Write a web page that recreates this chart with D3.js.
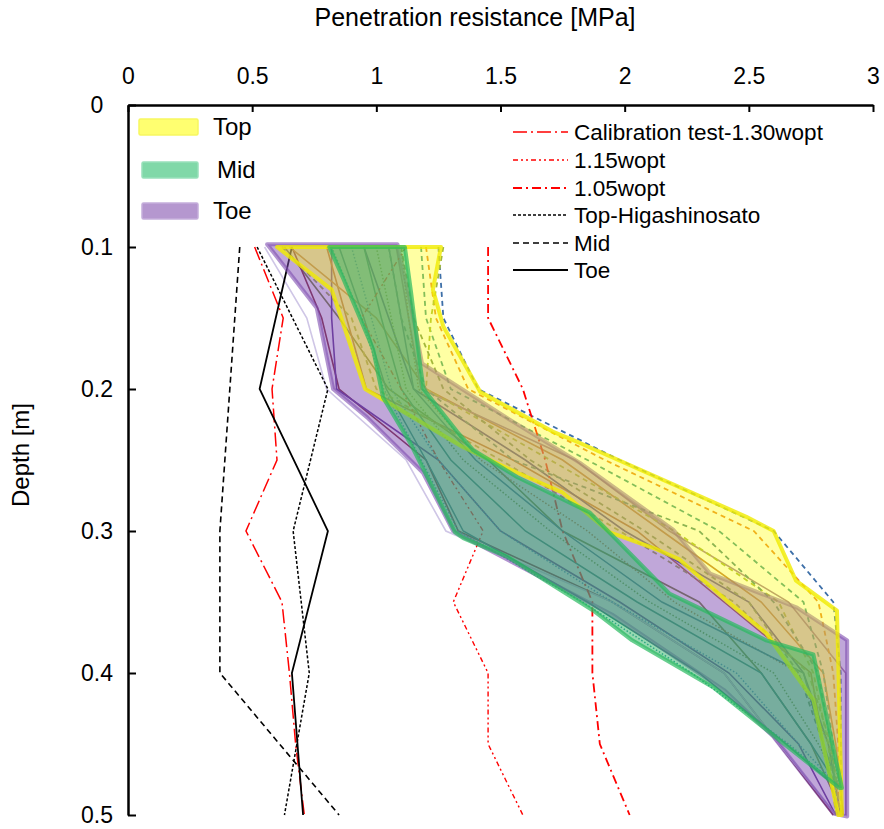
<!DOCTYPE html>
<html>
<head>
<meta charset="utf-8">
<script src="https://cdn.jsdelivr.net/npm/d3@7"></script>
<style>
  html, body { margin: 0; padding: 0; background: #fff; }
  svg { display: block; font-family: "Liberation Sans", Arial, sans-serif; }
</style>
</head>
<body>
<svg id="chart" width="884" height="829"></svg>
<script>
// ---------- data ----------
const xTicks = [0, 0.5, 1, 1.5, 2, 2.5, 3];
const yTicks = [0, 0.1, 0.2, 0.3, 0.4, 0.5];

const depthGrid = [0.1, 0.15, 0.2, 0.25, 0.3, 0.35, 0.4, 0.45, 0.5];
const midGrid   = [0.1, 0.15, 0.2, 0.25, 0.3, 0.35, 0.4, 0.45, 0.48];
const fieldDepths = [0.1, 0.2, 0.3, 0.4, 0.5];

// envelope edges, [depth (m), resistance (MPa)]
const topMinEdge = [[0.1,0.60],[0.13,0.82],[0.2,0.955],[0.241,1.35],[0.259,1.567],[0.273,1.75],[0.301,1.94],[0.313,2.13],[0.32,2.22],[0.349,2.41],[0.372,2.57],[0.419,2.76],[0.5,2.86]];
const topMaxEdge = [[0.1,1.26],[0.13,1.228],[0.156,1.27],[0.202,1.418],[0.23,1.71],[0.238,1.82],[0.29,2.49],[0.30,2.60],[0.335,2.69],[0.356,2.855],[0.5,2.875]];
const midMinEdge = [[0.1,0.81],[0.122,0.866],[0.15,0.934],[0.172,0.987],[0.206,1.027],[0.238,1.136],[0.301,1.317],[0.305,1.35],[0.318,1.526],[0.356,1.873],[0.377,2.03],[0.41,2.356],[0.442,2.585],[0.481,2.865]];
const midMaxEdge = [[0.1,1.115],[0.132,1.14],[0.181,1.175],[0.2,1.19],[0.23,1.325],[0.243,1.39],[0.262,1.567],[0.287,1.86],[0.344,2.18],[0.377,2.57],[0.387,2.76],[0.481,2.875]];
const toeMinEdge = [[0.098,0.56],[0.143,0.76],[0.2,0.826],[0.22,0.963],[0.259,1.188],[0.3,1.309],[0.359,1.95],[0.412,2.40],[0.445,2.60],[0.499,2.84]];
const toeMaxEdge = [[0.098,1.085],[0.137,1.135],[0.182,1.184],[0.223,1.55],[0.252,1.82],[0.299,2.195],[0.33,2.344],[0.354,2.694],[0.377,2.896],[0.501,2.896]];

// individual tests, values on depthGrid / midGrid
const topTests = [
  [1.25, 1.27, 1.41, 1.98, 2.60, 2.84, 2.87, 2.87, 2.87],
  [1.20, 1.24, 1.37, 1.92, 2.52, 2.78, 2.84, 2.86, 2.86],
  [1.18, 1.20, 1.30, 1.85, 2.38, 2.72, 2.80, 2.84, 2.85],
  [1.27, 1.22, 1.20, 1.70, 2.20, 2.62, 2.76, 2.82, 2.85],
  [1.10, 1.15, 1.27, 1.62, 2.08, 2.50, 2.70, 2.80, 2.86],
  [0.62, 0.90, 1.00, 1.50, 1.98, 2.44, 2.74, 2.83, 2.87],
  [1.05, 1.10, 1.20, 1.55, 2.30, 2.60, 2.78, 2.83, 2.86]
];
const topColors = ["#3d6fa8", "#e8862a", "#3f9a8c", "#a4b83c", "#6f8f5f", "#9aa845", "#4c8a80"];

const midTests = [
  [0.85, 0.95, 1.04, 1.20, 1.35, 1.85, 2.30, 2.65, 2.85],
  [0.90, 0.98, 1.06, 1.25, 1.50, 1.95, 2.45, 2.70, 2.86],
  [0.95, 1.02, 1.10, 1.30, 1.60, 2.05, 2.55, 2.75, 2.86],
  [1.00, 1.06, 1.12, 1.35, 1.70, 2.10, 2.60, 2.78, 2.87],
  [1.10, 1.13, 1.17, 1.42, 1.85, 2.20, 2.70, 2.82, 2.87],
  [1.05, 1.10, 1.15, 1.40, 1.75, 2.15, 2.72, 2.80, 2.86],
  [0.82, 0.94, 1.03, 1.18, 1.33, 1.83, 2.27, 2.66, 2.86]
];
const midColors = ["#2e6e7e", "#3f7fbf", "#2a7a70", "#6a8a30", "#c06a30", "#3a6a8a", "#2a9aa0"];
const midDotted = [false, true, false, true, true, false, true];

const toeTests = [
  [0.63, 0.85, 1.05, 1.45, 1.75, 2.30, 2.55, 2.75, 2.88],
  [0.66, 0.78, 0.85, 1.20, 1.33, 1.95, 2.40, 2.62, 2.84],
  [0.82, 0.82, 0.84, 1.25, 1.50, 1.98, 2.42, 2.70, 2.85],
  [0.80, 0.88, 0.96, 1.55, 2.05, 2.40, 2.75, 2.80, 2.86],
  [0.65, 1.00, 1.20, 1.75, 2.15, 2.55, 2.80, 2.85, 2.88],
  [0.95, 1.05, 1.15, 1.60, 2.00, 2.50, 2.72, 2.82, 2.87],
  [0.55, 0.72, 0.80, 1.12, 1.28, 1.95, 2.40, 2.62, 2.85],
  [1.08, 1.13, 1.18, 1.80, 2.18, 2.66, 2.89, 2.89, 2.89]
];
const toeColors = ["#6b7d2e", "#7a2030", "#5a2d8c", "#b0622e", "#c07a3a", "#3a3a8a", "#cfc6e6", "#a07a9a"];

// calibration tests (depthGrid)
const calib130 = [0.51, 0.625, 0.58, 0.60, 0.475, 0.62, 0.65, 0.675, 0.71];
const calib115 = [1.12, 0.94, 1.10, 1.25, 1.43, 1.31, 1.45, 1.45, 1.59];
const calib105 = [1.45, 1.45, 1.59, 1.68, 1.75, 1.87, 1.87, 1.90, 2.02];

// Higashinosato field tests (fieldDepths)
const fieldTop = [0.52, 0.805, 0.665, 0.73, 0.63];
const fieldMid = [0.45, 0.41, 0.37, 0.37, 0.85];
const fieldToe = [0.66, 0.53, 0.805, 0.66, 0.705];

const envLabels = ["Top", "Mid", "Toe"];
const lineLabels = ["Calibration test-1.30wopt", "1.15wopt", "1.05wopt", "Top-Higashinosato", "Mid", "Toe"];

// ---------- scales ----------
const svg = d3.select("#chart");
const x = d3.scaleLinear().domain([0, 3]).range([128, 873]);
const y = d3.scaleLinear().domain([0, 0.5]).range([105, 815]);

const line = d3.line().x(d => x(d[1])).y(d => y(d[0]));
const pair = (depths, vals) => depths.map((d, i) => [d, vals[i]]);

const envStyle = {
  Top: { fill: "rgba(255,255,0,0.36)", stroke: "rgba(240,235,0,0.8)",
         swatch: "#ffff70", swatchStroke: "#f7f760" },
  Mid: { fill: "rgba(46,180,100,0.5)", stroke: "rgba(40,185,95,0.7)",
         swatch: "#80d8a8", swatchStroke: "#98e0ba" },
  Toe: { fill: "rgba(130,80,180,0.5)", stroke: "rgba(125,75,175,0.6)",
         swatch: "#b597cf", swatchStroke: "#c5aedb" }
};

// ---------- thin test lines (drawn under the envelopes) ----------
const gLines = svg.append("g");
toeTests.forEach((v, i) => {
  gLines.append("path").attr("d", line(pair(depthGrid, v)))
    .attr("fill", "none").attr("stroke", toeColors[i]).attr("stroke-width", 1.6);
});
midTests.forEach((v, i) => {
  gLines.append("path").attr("d", line(pair(midGrid, v)))
    .attr("fill", "none").attr("stroke", midColors[i]).attr("stroke-width", 1.5)
    .attr("stroke-dasharray", midDotted[i] ? "1.5,2" : null);
});
topTests.forEach((v, i) => {
  gLines.append("path").attr("d", line(pair(depthGrid, v)))
    .attr("fill", "none").attr("stroke", topColors[i]).attr("stroke-width", 1.8)
    .attr("stroke-dasharray", "5,4");
});

// calibration tests
const calibStyles = [
  { vals: calib130, dash: "14,4,2,4", w: 1.5 },
  { vals: calib115, dash: "5,3,2,3,2,3", w: 1.4 },
  { vals: calib105, dash: "9,4,2,4", w: 1.8 }
];
calibStyles.forEach(s => {
  gLines.append("path").attr("d", line(pair(depthGrid, s.vals)))
    .attr("fill", "none").attr("stroke", "#ff0000")
    .attr("stroke-width", s.w).attr("stroke-dasharray", s.dash);
});

// field tests
const fieldStyles = [
  { vals: fieldTop, dash: "3,2", w: 1.5 },
  { vals: fieldMid, dash: "6,4", w: 1.6 },
  { vals: fieldToe, dash: null, w: 1.8 }
];
fieldStyles.forEach(s => {
  gLines.append("path").attr("d", line(pair(fieldDepths, s.vals)))
    .attr("fill", "none").attr("stroke", "#000")
    .attr("stroke-width", s.w).attr("stroke-dasharray", s.dash);
});

// ---------- envelopes ----------
function envelope(minEdge, maxEdge) {
  return line(minEdge.concat(maxEdge.slice().reverse())) + "Z";
}
const envs = [
  { key: "Toe", min: toeMinEdge, max: toeMaxEdge },
  { key: "Top", min: topMinEdge, max: topMaxEdge },
  { key: "Mid", min: midMinEdge, max: midMaxEdge }
];
const gEnv = svg.append("g");
envs.forEach(e => {
  gEnv.append("path").attr("d", envelope(e.min, e.max))
    .attr("fill", envStyle[e.key].fill)
    .attr("stroke", envStyle[e.key].stroke)
    .attr("stroke-width", 4).attr("stroke-linejoin", "round");
});

// ---------- axes ----------
const xAxis = d3.axisTop(x).tickValues(xTicks).tickFormat(d3.format("~g"))
  .tickSize(-7).tickSizeOuter(0).tickPadding(21);
const gx = svg.append("g").attr("transform", `translate(0,${y(0)})`).call(xAxis);
gx.select(".domain").attr("stroke-width", 2.5);
gx.selectAll(".tick line").attr("stroke-width", 2);
gx.selectAll("text").attr("font-size", 23).attr("fill", "#000")
  .attr("font-family", "Liberation Sans, Arial, sans-serif").attr("dy", "0");

const yAxis = d3.axisLeft(y).tickValues(yTicks).tickFormat(d3.format("~g"))
  .tickSize(-8).tickSizeOuter(0).tickPadding(31);
const gy = svg.append("g").attr("transform", `translate(${x(0)},0)`).call(yAxis);
gy.select(".domain").attr("stroke-width", 2.5);
gy.selectAll(".tick line").attr("stroke-width", 2);
gy.selectAll("text").attr("font-size", 23).attr("fill", "#000")
  .attr("text-anchor", "middle")
  .attr("font-family", "Liberation Sans, Arial, sans-serif");

// axis titles
svg.append("text").attr("x", 475).attr("y", 26).attr("text-anchor", "middle")
  .attr("font-size", 25).text("Penetration resistance [MPa]");
svg.append("text").attr("transform", "translate(29,455) rotate(-90)")
  .attr("text-anchor", "middle").attr("font-size", 24).text("Depth [m]");

// ---------- legends ----------
const envLegendY = [127, 170, 211];
const envLegendX = [139, 142, 142];
envLabels.forEach((k, i) => {
  svg.append("rect").attr("x", envLegendX[i]).attr("y", envLegendY[i] - 8)
    .attr("width", 198 - envLegendX[i]).attr("height", 16).attr("rx", 1.5)
    .attr("fill", envStyle[k].swatch).attr("stroke", envStyle[k].swatchStroke).attr("stroke-width", 1.5);
  svg.append("text").attr("x", k === "Mid" ? 217 : 213).attr("y", envLegendY[i])
    .attr("dy", "0.35em").attr("font-size", 24).text(k);
});

const lineLegendY = [132, 160, 188, 215, 243, 270];
const legendStyles = [
  { c: "#ff0000", dash: "14,4,2,4", w: 1.5 },
  { c: "#ff0000", dash: "5,3,2,3,2,3", w: 1.4 },
  { c: "#ff0000", dash: "9,4,2,4", w: 1.8 },
  { c: "#000", dash: "3,2", w: 1.5 },
  { c: "#000", dash: "6,4", w: 1.6 },
  { c: "#000", dash: null, w: 1.8 }
];
lineLabels.forEach((t, i) => {
  const s = legendStyles[i];
  svg.append("line").attr("x1", 513).attr("x2", 568)
    .attr("y1", lineLegendY[i]).attr("y2", lineLegendY[i])
    .attr("stroke", s.c).attr("stroke-width", s.w).attr("stroke-dasharray", s.dash);
  svg.append("text").attr("x", 574).attr("y", lineLegendY[i]).attr("dy", "0.35em")
    .attr("font-size", 22.5).text(t);
});
</script>
</body>
</html>
